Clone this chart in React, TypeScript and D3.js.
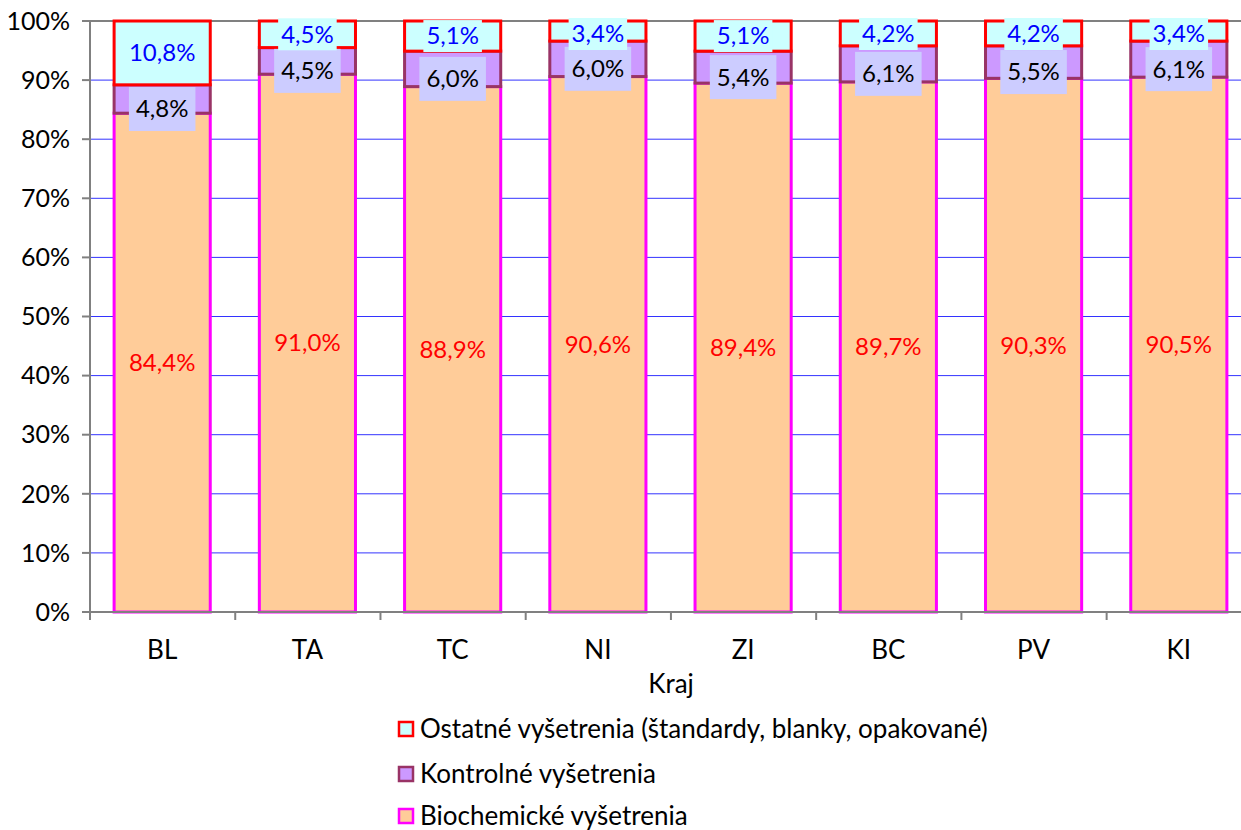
import React, { useEffect, useRef } from "react";
import * as d3 from "d3";

const categories = ["BL", "TA", "TC", "NI", "ZI", "BC", "PV", "KI"];
const biochemicke = [84.4, 91.0, 88.9, 90.6, 89.4, 89.7, 90.3, 90.5];
const kontrolne = [4.8, 4.5, 6.0, 6.0, 5.4, 6.1, 5.5, 6.1];
const ostatne = [10.8, 4.5, 5.1, 3.4, 5.1, 4.2, 4.2, 3.4];
const yTicks = [0, 10, 20, 30, 40, 50, 60, 70, 80, 90, 100];
const seriesNames = [
  "Ostatné vyšetrenia (štandardy, blanky, opakované)",
  "Kontrolné vyšetrenia",
  "Biochemické vyšetrenia",
];

const FONT = "Lato, 'Open Sans', sans-serif";

export default function App() {
  const ref = useRef<SVGSVGElement>(null);
  useEffect(() => {
    const svg = d3.select(ref.current);
    svg.selectAll("*").remove();
    const left = 90, right = 1251, top = 21, bottom = 612;
    const x = d3.scaleBand<string>().domain(categories).range([left, right]).paddingInner(0.338).paddingOuter(0.166);
    const y = d3.scaleLinear().domain([0, 100]).range([bottom, top]);
    const fmt = (v: number) => v.toFixed(1).replace(".", ",") + "%";

    // gridlines
    svg.append("g").selectAll("line").data(yTicks.filter(t => t > 0 && t < 100)).join("line")
      .attr("x1", left).attr("x2", right).attr("y1", d => y(d)).attr("y2", d => y(d))
      .attr("stroke", "#3333ff").attr("stroke-width", 1);
    svg.append("line").attr("x1", left).attr("x2", right).attr("y1", top).attr("y2", top)
      .attr("stroke", "#808080").attr("stroke-width", 2);

    const data = categories.map((c, i) => {
      const tot = biochemicke[i] + kontrolne[i] + ostatne[i];
      const b = (biochemicke[i] / tot) * 100;
      const k = (kontrolne[i] / tot) * 100;
      return { c, i, b, k, o: 100 - b - k };
    });

    const g = svg.append("g");
    data.forEach(d => {
      const x0 = x(d.c)!, w = x.bandwidth();
      g.append("rect").attr("x", x0).attr("y", y(d.b)).attr("width", w).attr("height", y(0) - y(d.b))
        .attr("fill", "#FFCC99").attr("stroke", "#FF00FF").attr("stroke-width", 3);
      g.append("rect").attr("x", x0).attr("y", y(d.b + d.k)).attr("width", w).attr("height", y(d.b) - y(d.b + d.k))
        .attr("fill", "#CC99FF").attr("stroke", "#993366").attr("stroke-width", 3);
      g.append("rect").attr("x", x0).attr("y", y(100)).attr("width", w).attr("height", y(d.b + d.k) - y(100))
        .attr("fill", "#CCFFFF").attr("stroke", "#FF0000").attr("stroke-width", 3);
    });

    // axes
    svg.append("line").attr("x1", left).attr("x2", left).attr("y1", top).attr("y2", bottom)
      .attr("stroke", "#808080").attr("stroke-width", 2);
    svg.append("line").attr("x1", left).attr("x2", right).attr("y1", bottom).attr("y2", bottom)
      .attr("stroke", "#808080").attr("stroke-width", 2);
    yTicks.forEach(t => {
      svg.append("line").attr("x1", left - 8).attr("x2", left).attr("y1", y(t)).attr("y2", y(t))
        .attr("stroke", "#808080").attr("stroke-width", 2);
      svg.append("text").attr("x", 70).attr("y", y(t)).attr("dy", "0.35em").attr("text-anchor", "end")
        .attr("font-family", FONT).attr("font-size", 25).attr("fill", "#000").text(t + "%");
    });
    const step = x.step();
    d3.range(categories.length + 1).forEach(i => {
      const xx = left + i * step;
      svg.append("line").attr("x1", xx).attr("x2", xx).attr("y1", bottom).attr("y2", bottom + 8)
        .attr("stroke", "#808080").attr("stroke-width", 2);
    });
    categories.forEach(c => {
      svg.append("text").attr("x", x(c)! + x.bandwidth() / 2).attr("y", 650).attr("dy", "0.35em")
        .attr("text-anchor", "middle").attr("font-family", FONT).attr("font-size", 26).text(c);
    });
    svg.append("text").attr("x", 671).attr("y", 684).attr("dy", "0.35em")
      .attr("text-anchor", "middle").attr("font-family", FONT).attr("font-size", 26).text("Kraj");

    // labels
    const addLabel = (cx: number, cy: number, txt: string, color: string, bg: string | null, padX: number, h: number) => {
      const lg = svg.append("g");
      const r = lg.append("rect");
      const t = lg.append("text").attr("x", cx).attr("y", cy).attr("dy", "0.35em").attr("text-anchor", "middle")
        .attr("font-family", FONT).attr("font-size", 24).attr("fill", color).text(txt);
      if (bg) {
        const wText = (t.node() as SVGTextElement).getComputedTextLength();
        r.attr("x", cx - wText / 2 - padX).attr("y", cy - h / 2).attr("width", wText + padX * 2).attr("height", h).attr("fill", bg);
      } else r.remove();
    };
    data.forEach(d => {
      const cx = x(d.c)! + x.bandwidth() / 2;
      addLabel(cx, y(d.b / 2), fmt(biochemicke[d.i]), "#FF0000", null, 0, 0);
      addLabel(cx, y(d.b + d.k / 2) + 10, fmt(kontrolne[d.i]), "#000000", "#CCCCFF", 7, 44);
      const oy = Math.max(y(d.b + d.k + d.o / 2), 34);
      addLabel(cx, oy, fmt(ostatne[d.i]), "#0000FF", "#CCFFFF", 3, 32);
    });

    // legend
    const legY = [729, 774, 816];
    const legFill = ["#CCFFFF", "#CC99FF", "#FFCC99"];
    const legStroke = ["#FF0000", "#993366", "#FF00FF"];
    seriesNames.forEach((n, i) => {
      svg.append("rect").attr("x", 399).attr("y", legY[i] - 7).attr("width", 14).attr("height", 14)
        .attr("fill", legFill[i]).attr("stroke", legStroke[i]).attr("stroke-width", 2.5);
      svg.append("text").attr("x", 420).attr("y", legY[i]).attr("dy", "0.35em").attr("font-family", FONT)
        .attr("font-size", 26).text(n);
    });
  }, []);
  return (
    <svg ref={ref} width={1241} height={830}
      style={{ position: "absolute", left: 0, top: 0, background: "#fff" }} />
  );
}
